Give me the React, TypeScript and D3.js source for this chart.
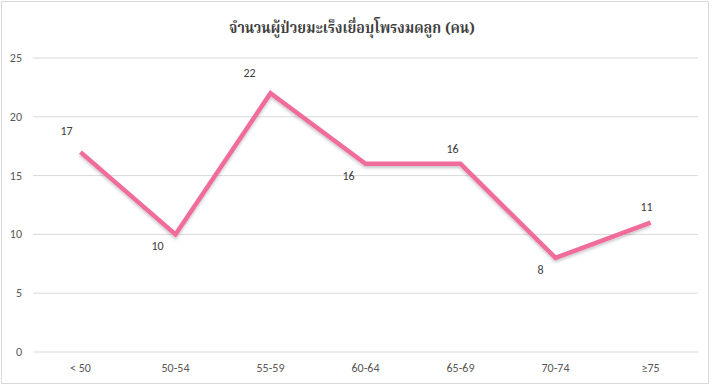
import React from "react";
import * as d3 from "d3";

const categories = ["< 50", "50-54", "55-59", "60-64", "65-69", "70-74", "≥75"];
const values = [17, 10, 22, 16, 16, 8, 11];
const yTicks = [0, 5, 10, 15, 20, 25];
const title = "จำนวนผู้ป่วยมะเร็งเยื่อบุโพรงมดลูก (คน)";

// label placement: [dx, dy] relative to point
const labelOffsets: [number, number][] = [
  [-14, -17], [-18, 16], [-21, -16], [-17, 16], [-8, -11], [-15, 16], [-4, -12],
];

export default function App() {
  const W = 712, H = 387;
  const x = d3.scaleBand().domain(categories).range([33, 698]);
  const y = d3.scaleLinear().domain([0, 25]).range([352, 58]);
  const cx = (c: string) => (x(c) as number) + x.bandwidth() / 2;
  const line = d3.line<number>().x((_, i) => cx(categories[i])).y((v) => y(v));
  const path = line(values) || "";
  const font = "Carlito,'Liberation Sans',Arial,sans-serif";
  return (
    <svg width={W} height={H} style={{ position: "absolute", left: 0, top: 0, background: "#fff" }}>
      <defs>
        <filter id="sh" x="-10%" y="-10%" width="120%" height="130%">
          <feDropShadow dx="0" dy="2" stdDeviation="1.5" floodColor="#000" floodOpacity="0.22" />
        </filter>
      </defs>
      <rect x={1.5} y={1.5} width={W - 5} height={H - 5} fill="#fff" stroke="#d9d9d9" />
      <text x={352} y={33} textAnchor="middle" fontFamily="'Noto Serif Thai','Noto Sans Thai','DejaVu Serif',serif" fontSize={15} fontWeight="bold" fill="#404040" textLength={246} lengthAdjust="spacingAndGlyphs">{title}</text>
      {yTicks.map((t) => (
        <g key={t}>
          <line x1={33} x2={698} y1={y(t)} y2={y(t)} stroke="#d9d9d9" strokeWidth={1} />
          <text x={22} y={y(t) + 4} textAnchor="end" fontFamily={font} fontSize={12} fill="#595959">{t}</text>
        </g>
      ))}
      {categories.map((c) => (
        <text key={c} x={cx(c)} y={372} textAnchor="middle" fontFamily={font} fontSize={12} fill="#595959">{c}</text>
      ))}
      <path d={path} fill="none" stroke="#F06C9B" strokeWidth={4.5} strokeLinejoin="miter" filter="url(#sh)" />
      {values.map((v, i) => {
        const px = cx(categories[i]);
        const py = y(v);
        const [dx, dy] = labelOffsets[i];
        return (
          <text key={i} x={px + dx} y={py + dy} textAnchor="middle" fontFamily={font} fontSize={12} fill="#404040">{v}</text>
        );
      })}
    </svg>
  );
}
